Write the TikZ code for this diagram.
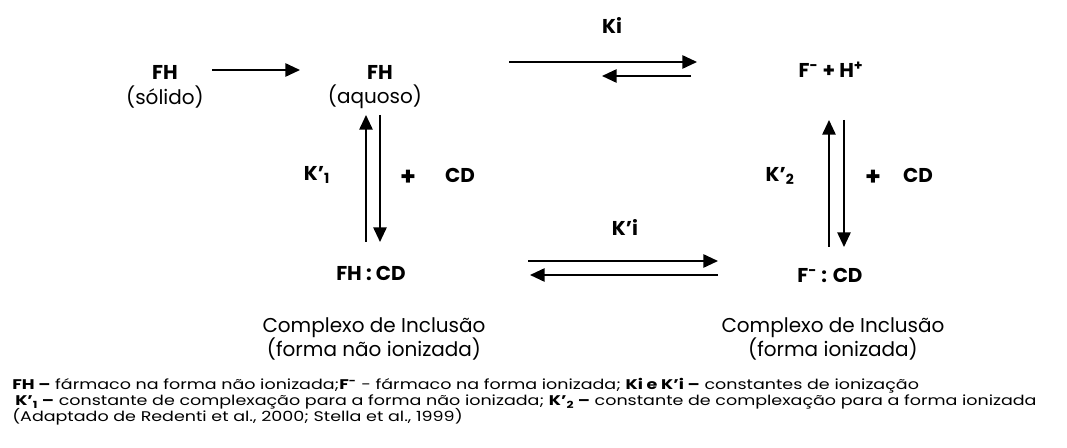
\documentclass[tikz,border=0pt]{standalone}
\usepackage{fontspec}
\setmainfont{Poppins}
\newfontfamily\notefont{Poppins}[FakeStretch=1.25]
\usetikzlibrary{arrows.meta,calc}
\tikzset{
  lbl/.style={font=\fontsize{15}{18}\selectfont\bfseries, inner sep=1pt},
  txt/.style={font=\fontsize{15}{18}\selectfont, inner sep=1pt},
  plus/.style={font=\fontsize{19}{20}\selectfont\bfseries, inner sep=1pt},
  note/.style={font=\notefont\fontsize{10.5}{12}\selectfont, anchor=base west, inner sep=0pt},
  arr/.style={line width=1.3pt, -{Triangle[length=11pt,width=10pt]}},
}
\begin{document}
\begin{tikzpicture}[x=0.75pt,y=-0.75pt]
\useasboundingbox (0,0) rectangle (1067,448);
% species
\node[lbl] (fhs) at (165,72) {FH};
\node[txt] (sol) at (165,97) {(sólido)};
\node[lbl] (fha) at (380,72) {FH};
\node[txt] (aq) at (375,97) {(aquoso)};
\node[lbl] (fhp) at (831,70) {F\textsuperscript{-} + H\textsuperscript{+}};
\node[lbl] (fhcd) at (371,273) {FH : CD};
\node[lbl] (fcd) at (830,275) {F\textsuperscript{-} : CD};
% constants
\node[lbl] (ki) at (612,25) {Ki};
\node[lbl] (kli) at (625,227) {K’i};
\node[lbl] (k1) at (317,175) {K’\textsubscript{1}};
\node[lbl] (k2) at (780,176) {K’\textsubscript{2}};
\node[plus] (pl1) at (408,178) {+};
\node[lbl] (cd1) at (460,175) {CD};
\node[plus] (pl2) at (873,178) {+};
\node[lbl] (cd2) at (918,175) {CD};
% captions
\node[txt, align=center] (cpl) at (374,339) {Complexo de Inclusão\\(forma não ionizada)};
\node[txt, align=center] (cpr) at (833,339) {Complexo de Inclusão\\(forma ionizada)};
% arrows
\draw[arr] ($(fhs)+(47,-2)$) -- ($(fha)+(-80,-2)$);
\draw[arr] ($(fha)+(129,-10)$) -- ($(fhp)+(-134,-8)$);
\draw[arr] ($(fhp)+(-140,6)$) -- ($(fha)+(222,4)$);
\draw[arr] ($(fhcd)+(-5,-31)$) -- ($(aq)+(-9,18)$);
\draw[arr] ($(aq)+(5,18)$) -- ($(fhcd)+(9,-31)$);
\draw[arr] ($(fcd)+(-1,-28)$) -- ($(fhp)+(-2,50)$);
\draw[arr] ($(fhp)+(13,50)$) -- ($(fcd)+(14,-28)$);
\draw[arr] ($(fhcd)+(157,-12)$) -- ($(fcd)+(-112,-14)$);
\draw[arr] ($(fcd)+(-112,0)$) -- ($(fhcd)+(159,2)$);
% legend
\node[note] (n1) at (12,390) {\textbf{FH –} fármaco na forma não ionizada;\textbf{F\textsuperscript{-}} - fármaco na forma ionizada; \textbf{Ki e K’i –} constantes de ionização};
\node[note] (n2) at (15,406) {\textbf{K’\textsubscript{1} –} constante de complexação para a forma não ionizada; \textbf{K’\textsubscript{2} –} constante de complexação para a forma ionizada};
\node[note] (n3) at (12,422) {(Adaptado de Redenti et al., 2000; Stella et al., 1999)};
\end{tikzpicture}
\end{document}
